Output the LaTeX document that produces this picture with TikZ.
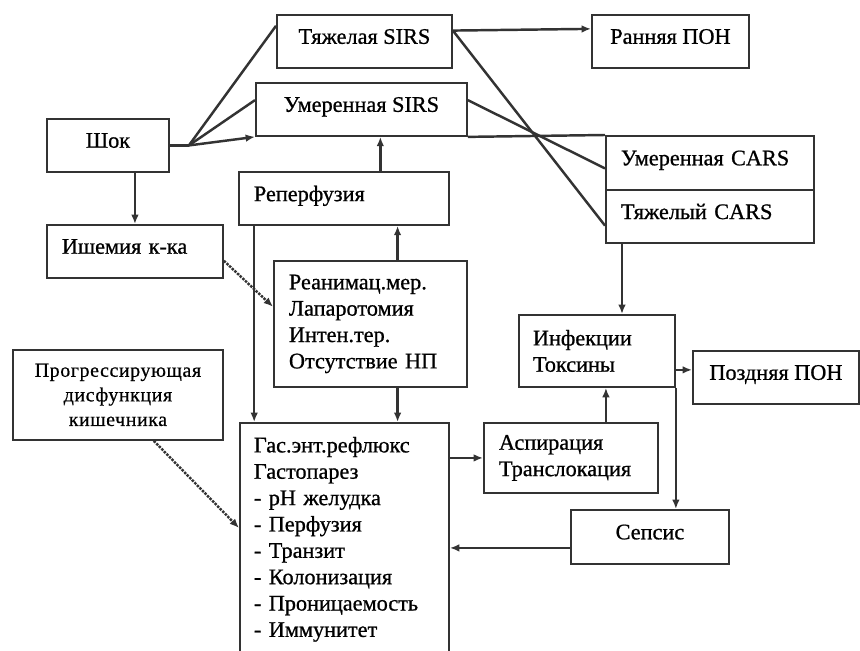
\documentclass[tikz,border=0pt]{standalone}
\usepackage{fontspec}
\setmainfont{Liberation Serif}[FakeBold=0.8]
\newfontfamily\spacedfont[LetterSpace=3,FakeBold=0.6]{Liberation Serif}
\usepackage{tikz}
\usetikzlibrary{positioning,arrows.meta,calc}
\tikzset {
    style A/.style={
        draw=black!80,
        line width=1.6pt,
        rectangle, % Set the shape as a rectangle
        anchor=north west,
        minimum height=1.59cm,
        align=center,
    },
    style B/.style={
        style A,
        inner xsep=0.45cm,
        align=left,
    },
    style C/.style={
        text depth=0.3cm,
    },
    style D/.style={
        draw=black!80,
        line width=2.1pt,
    },
}
\begin{document}
\begin{tikzpicture}
[x=0.03cm, y=-0.03cm, font=\fontsize{19}{22.5}\selectfont, >={Latex[length=8pt,width=6.5pt]}]
\useasboundingbox (0,0) rectangle (860,651);

\node[style A, style C, minimum width=5.25cm] at (276,14) (severeSirs) {Тяжелая SIRS};
\node[style A, style C, minimum width=6.33cm] at (255,82) (moderateSirs) {Умеренная SIRS};
\node[style A, style C, minimum width=4.71cm] at (591,14) (earlyMof) {Ранняя ПОН};
\node[style A, style C, minimum width=3.66cm] at (46,118) (shock) {Шок};
\node[style B, style C, text width=5.34cm, minimum height=1.62cm] at (605,135) (moderateCars) {Умеренная CARS};
\node[style B, style C, text width=5.34cm] at (605,189) (severeCars) {Тяжелый CARS};
\node[style B, style C, text width=5.4cm] at (238,171) (reperfusion) {Реперфузия};
\node[style B, style C, text width=4.38cm] at (46,224) (ischemia) {Ишемия к-ка};
\node[style B, text width=4.89cm, minimum height=3.78cm] at (273,260) (resuscitation) {Реанимац.мер.\\Лапаротомия\\Интен.тер.\\Отсутствие НП};
\node[style A, minimum width=6.3cm, minimum height=2.7cm, font=\fontsize{17}{21}\spacedfont] at (12,349) (progDysf) {Прогрессирующая\\дисфункция\\кишечника};
\begin{scope}
\clip (0,0) rectangle (860,651);
\node[style B, text width=5.43cm, inner xsep=0.42cm, inner ysep=0.42cm, minimum height=0cm] at (239,422) (reflux) {Гас.энт.рефлюкс\\Гастопарез\\- pH желудка\\- Перфузия\\- Транзит\\- Колонизация\\- Проницаемость\\- Иммунитет};
\end{scope}
\node[style B, text width=4.32cm, minimum height=2.1cm] at (483,422) (aspiration) {Аспирация\\Транслокация};
\node[style B, text width=3.84cm, inner xsep=0.42cm, minimum height=2.16cm] at (518,314) (infection) {Инфекции\\Токсины};
\node[style A, style C, minimum width=4.98cm] at (692,350) (lateMof) {Поздняя ПОН};
\node[style A, style C, minimum width=4.74cm, minimum height=1.62cm] at (570,509) (sepsis) {Сепсис};

\coordinate (fork) at ($(shock.east)+(19,0)$);
\coordinate (aspTop) at ($(aspiration.north)+(35,0)$);
\coordinate (carsFoot) at ($(severeCars.south west)+(17,0)$);
\coordinate (infOut) at ($(infection.south east)+(0,-18)$);
\coordinate (sepOut) at ($(sepsis.west)+(0,11)$);
\coordinate (refluxIn) at ($(reflux.north west)+(0,106)$);

\draw[style D] (shock.east) -- (fork);
\draw[style D] (fork) -- (severeSirs.170);
\draw[style D] (fork) -- (moderateSirs.175);
\draw[style D, ->] (fork) -- (moderateSirs.south west);
\draw[style D] (moderateSirs.south east) -- (moderateCars.north west);
\draw[style D, ->] (severeSirs.7) -- (earlyMof.171);
\draw[style D] (severeSirs.7) -- (severeCars.185);
\draw[style D] (moderateSirs.5) -- (moderateCars.183);
\draw[style D, ->] (shock.south -| ischemia.north) -- (ischemia.north);
\draw[style D, ->] (reperfusion.37) -- (reperfusion.37 |- moderateSirs.south);
\draw[style D, ->] (resuscitation.67) -- (resuscitation.67 |- reperfusion.south);
\draw[style D, ->] (reperfusion.-163) -- (reperfusion.-163 |- reflux.north);
\draw[style D, ->] (resuscitation.-67) -- (resuscitation.-67 |- reflux.north);
\draw[style D, ->, densely dotted] (ischemia.-6) -- (resuscitation.170);
\draw[style D, ->, densely dotted] (progDysf.-52) -- (refluxIn);
\draw[style D, ->] (aspiration.west -| reflux.east) -- (aspiration.west);
\draw[style D, ->] (aspTop) -- (aspTop |- infection.south);
\draw[style D, ->] (carsFoot) -- (carsFoot |- infection.north);
\draw[style D, ->] (infOut) -- (infOut -| lateMof.west);
\draw[style D, ->] (infection.south east) -- (infection.south east |- sepsis.north);
\draw[style D, ->] (sepOut) -- (sepOut -| reflux.east);
\end{tikzpicture}
\end{document}
